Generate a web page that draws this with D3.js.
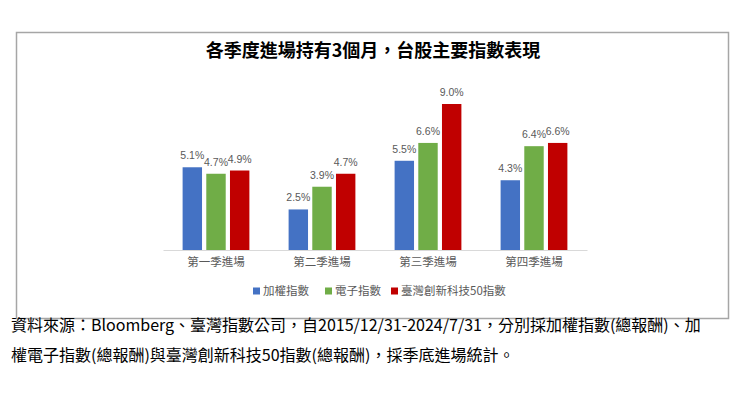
<!DOCTYPE html>
<html>
<head>
<meta charset="utf-8">
<script src="https://cdn.jsdelivr.net/npm/d3@7"></script>
<style>
  body { margin: 0; background: #fff; }
  svg { display: block; }
</style>
</head>
<body>
<div id="chart"></div>
<script>
const categories = ["第一季進場", "第二季進場", "第三季進場", "第四季進場"]
const seriesNames = ["加權指數", "電子指數", "臺灣創新科技50指數"]
const taiex = [5.1, 2.5, 5.5, 4.3]
const electronic = [4.7, 3.9, 6.6, 6.4]
const tech50 = [4.9, 4.7, 9.0, 6.6]
const colors = ["#4472C4", "#70AD47", "#C00000"]
const title = "各季度進場持有3個月，台股主要指數表現"
const noteLines = [
  "資料來源：Bloomberg、臺灣指數公司，自2015/12/31-2024/7/31，分別採加權指數(總報酬)、加",
  "權電子指數(總報酬)與臺灣創新科技50指數(總報酬)，採季底進場統計。"
]

const series = [taiex, electronic, tech50]
const dataset = []
categories.forEach((c, i) => {
  series.forEach((s, j) => dataset.push({ cat: c, name: seriesNames[j], value: s[i] }))
})

const width = 750, height = 413
const plot = { left: 163, right: 587, top: 104, bottom: 250 }

const svg = d3.select("#chart").append("svg")
  .attr("width", width)
  .attr("height", height)

// outer frame
svg.append("rect")
  .attr("x", 16.5).attr("y", 32.5)
  .attr("width", 712).attr("height", 286)
  .attr("fill", "#fff")
  .attr("stroke", "#a6a6a6")
  .attr("stroke-width", 1.5)

svg.append("text")
  .attr("x", 373).attr("y", 57)
  .attr("text-anchor", "middle")
  .attr("font-family", "'Noto Sans CJK TC', sans-serif")
  .attr("font-weight", "bold")
  .attr("font-size", 18)
  .attr("fill", "#000")
  .text(title)

// scales
const xSkala = d3.scaleBand()
  .domain(categories)
  .range([plot.left, plot.right])
  .paddingInner(0.37)
  .paddingOuter(0.185)

const xSub = d3.scaleBand()
  .domain(seriesNames)
  .range([0, xSkala.bandwidth()])
  .paddingInner(0.18)

const ySkala = d3.scaleLinear()
  .domain([0, 9])
  .range([plot.bottom, plot.top])

// bars
svg.append("g").selectAll("rect")
  .data(dataset)
  .join("rect")
    .attr("x", d => xSkala(d.cat) + xSub(d.name))
    .attr("y", d => ySkala(d.value))
    .attr("width", xSub.bandwidth())
    .attr("height", d => ySkala(0) - ySkala(d.value))
    .attr("fill", d => colors[seriesNames.indexOf(d.name)])

// value labels
svg.append("g").selectAll("text")
  .data(dataset)
  .join("text")
    .attr("x", d => xSkala(d.cat) + xSub(d.name) + xSub.bandwidth() / 2)
    .attr("y", d => ySkala(d.value) - 8)
    .attr("text-anchor", "middle")
    .attr("font-family", "'Liberation Sans', Arial, sans-serif")
    .attr("font-size", 10.5)
    .attr("fill", "#595959")
    .text(d => d3.format(".1f")(d.value) + "%")

// x axis
const xOs = svg.append("g")
  .attr("transform", `translate(0,${plot.bottom})`)
  .call(d3.axisBottom(xSkala).tickSize(0).tickPadding(8))
xOs.select(".domain").attr("stroke", "#d9d9d9").attr("stroke-width", 1)
xOs.selectAll("text")
  .attr("font-family", "'Noto Sans CJK TC', sans-serif")
  .attr("font-size", 11.5)
  .attr("fill", "#595959")

// legend
const legendX = [253, 325, 391]
const legend = svg.append("g").selectAll("g")
  .data(seriesNames)
  .join("g")
    .attr("transform", (d, i) => `translate(${legendX[i]},291)`)
legend.append("rect")
  .attr("x", 0).attr("y", -3.5)
  .attr("width", 7).attr("height", 7)
  .attr("fill", (d, i) => colors[i])
legend.append("text")
  .attr("x", 10).attr("y", 0)
  .attr("dy", "0.35em")
  .attr("font-family", "'Noto Sans CJK TC', sans-serif")
  .attr("font-size", 11.5)
  .attr("fill", "#595959")
  .text(d => d)

// note below
svg.append("g").selectAll("text")
  .data(noteLines)
  .join("text")
    .attr("x", 11)
    .attr("y", (d, i) => 331 + i * 30)
    .attr("font-family", "'Noto Sans CJK TC', sans-serif")
    .attr("font-size", 16)
    .attr("fill", "#000")
    .text(d => d)
</script>
</body>
</html>
